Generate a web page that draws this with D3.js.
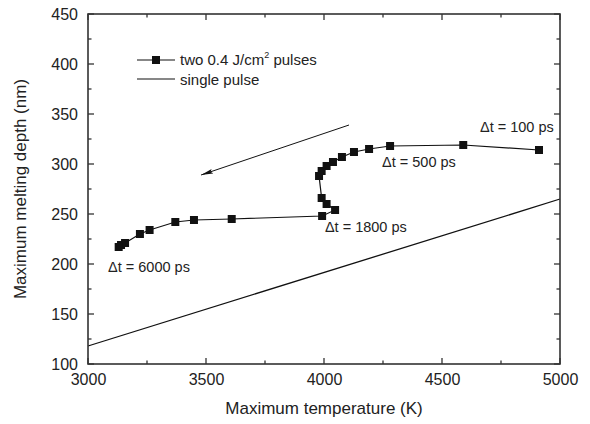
<!DOCTYPE html>
<html><head><meta charset="utf-8">
<script src="https://cdn.jsdelivr.net/npm/d3@7"></script>
<style>
html,body{margin:0;padding:0;background:#fff;}
text{font-family:"Liberation Sans",Arial,sans-serif;fill:#222;}
</style></head>
<body>
<svg id="chart" width="590" height="424"></svg>
<script>
// Two 0.4 J/cm2 pulses: maximum temperature (K) vs maximum melting depth (nm)
const twoPulseT = [4911, 4590, 4280, 4191, 4127, 4076, 4038, 4011, 3990, 3979, 3990, 4011, 4047, 3992, 3609, 3449, 3370, 3261, 3220, 3157, 3140, 3130];
const twoPulseD = [314, 319, 318, 315, 312, 307, 302, 298, 293, 288, 266, 260, 254, 248, 245, 244, 242, 234, 230, 221, 219, 217];
// Single pulse (straight line)
const singleT = [3000, 5000];
const singleD = [118, 265];
// Annotations
const annoText = ["\u0394t = 100 ps", "\u0394t = 500 ps", "\u0394t = 1800 ps", "\u0394t = 6000 ps"];
const annoT = [4661, 4246, 4004, 3085];
const annoD = [332, 297, 232, 192];
// Arrow (from, to)
const arrowT = [4106, 3479];
const arrowD = [339, 289];
// Axes
const xTicks = [3000, 3500, 4000, 4500, 5000];
const yTicks = [100, 150, 200, 250, 300, 350, 400, 450];
const legendLabels = ["two 0.4 J/cm", "single pulse"];

const svg = d3.select("#chart");
const L = 88, R = 560, T = 14, B = 364;
const x = d3.scaleLinear().domain([3000, 5000]).range([L, R]);
const y = d3.scaleLinear().domain([100, 450]).range([B, T]);
const axisCol = "#333";

// single pulse line
const line = d3.line().x(d => x(d[0])).y(d => y(d[1]));
svg.append("path").datum(singleT.map((t, i) => [t, singleD[i]]))
  .attr("d", line).attr("fill", "none").attr("stroke", "#111").attr("stroke-width", 1.3);

// two pulse line + markers
const tp = twoPulseT.map((t, i) => [t, twoPulseD[i]]);
svg.append("path").datum(tp).attr("d", line).attr("fill", "none")
  .attr("stroke", "#111").attr("stroke-width", 1.2);
svg.selectAll("rect.m").data(tp).enter().append("rect")
  .attr("x", d => x(d[0]) - 4).attr("y", d => y(d[1]) - 4)
  .attr("width", 8).attr("height", 8).attr("fill", "#111");

// arrow
svg.append("defs").append("marker").attr("id", "ah")
  .attr("viewBox", "0 0 12 6").attr("refX", 12).attr("refY", 3)
  .attr("markerWidth", 12).attr("markerHeight", 6).attr("markerUnits", "userSpaceOnUse")
  .attr("orient", "auto")
  .append("path").attr("d", "M0,0.6 L12,3 L0,5.4 L2,3 Z").attr("fill", "#111");
svg.append("line")
  .attr("x1", x(arrowT[0])).attr("y1", y(arrowD[0]))
  .attr("x2", x(arrowT[1])).attr("y2", y(arrowD[1]))
  .attr("stroke", "#111").attr("stroke-width", 1).attr("marker-end", "url(#ah)");

// annotations
svg.selectAll("text.anno").data(annoText).enter().append("text")
  .attr("x", (d, i) => x(annoT[i])).attr("y", (d, i) => y(annoD[i]))
  .attr("font-size", 14.5).text(d => d);

// axes
const xMinor = d3.range(3000, 5001, 250);
const yMinor = d3.range(100, 451, 25);
const gx = svg.append("g").attr("transform", `translate(0,${B})`)
  .call(d3.axisBottom(x).tickValues(xTicks).tickSize(0).tickPadding(10).tickFormat(d3.format("d")));
gx.select(".domain").remove();
gx.selectAll("text").attr("font-size", 16).attr("fill", "#222");
const gy = svg.append("g").attr("transform", `translate(${L},0)`)
  .call(d3.axisLeft(y).tickValues(yTicks).tickSize(0).tickPadding(10));
gy.select(".domain").remove();
gy.selectAll("text").attr("font-size", 16).attr("fill", "#222").attr("dy", "0.35em");

// ticks inward
const tk = svg.append("g").attr("stroke", axisCol).attr("stroke-width", 1.3);
xMinor.forEach(v => {
  const len = (v % 500 === 0) ? 6 : 3.5;
  tk.append("line").attr("x1", x(v)).attr("x2", x(v)).attr("y1", B).attr("y2", B - len);
  tk.append("line").attr("x1", x(v)).attr("x2", x(v)).attr("y1", T).attr("y2", T + len);
});
yMinor.forEach(v => {
  const len = (v % 50 === 0) ? 6 : 3.5;
  tk.append("line").attr("y1", y(v)).attr("y2", y(v)).attr("x1", L).attr("x2", L + len);
  tk.append("line").attr("y1", y(v)).attr("y2", y(v)).attr("x1", R).attr("x2", R - len);
});
svg.append("rect").attr("x", L).attr("y", T).attr("width", R - L).attr("height", B - T)
  .attr("fill", "none").attr("stroke", axisCol).attr("stroke-width", 1.6);

// axis titles
svg.append("text").attr("x", (L + R) / 2).attr("y", 414).attr("text-anchor", "middle")
  .attr("font-size", 17).text("Maximum temperature (K)");
svg.append("text").attr("transform", `translate(26,${(T + B) / 2}) rotate(-90)`)
  .attr("text-anchor", "middle").attr("font-size", 17).text("Maximum melting depth (nm)");

// legend
const lg = svg.append("g");
lg.append("line").attr("x1", 137).attr("x2", 175).attr("y1", 60).attr("y2", 60)
  .attr("stroke", "#111").attr("stroke-width", 1.2);
lg.append("rect").attr("x", 152).attr("y", 56).attr("width", 8).attr("height", 8).attr("fill", "#111");
const t1 = lg.append("text").attr("x", 180).attr("y", 65).attr("font-size", 15);
t1.append("tspan").text(legendLabels[0]);
t1.append("tspan").attr("font-size", 9).attr("dy", -7).text("2");
t1.append("tspan").attr("dy", 7).text(" pulses");
lg.append("line").attr("x1", 137).attr("x2", 175).attr("y1", 79).attr("y2", 79)
  .attr("stroke", "#111").attr("stroke-width", 1.2);
lg.append("text").attr("x", 180).attr("y", 84.5).attr("font-size", 15).text(legendLabels[1]);
</script>
</body></html>
